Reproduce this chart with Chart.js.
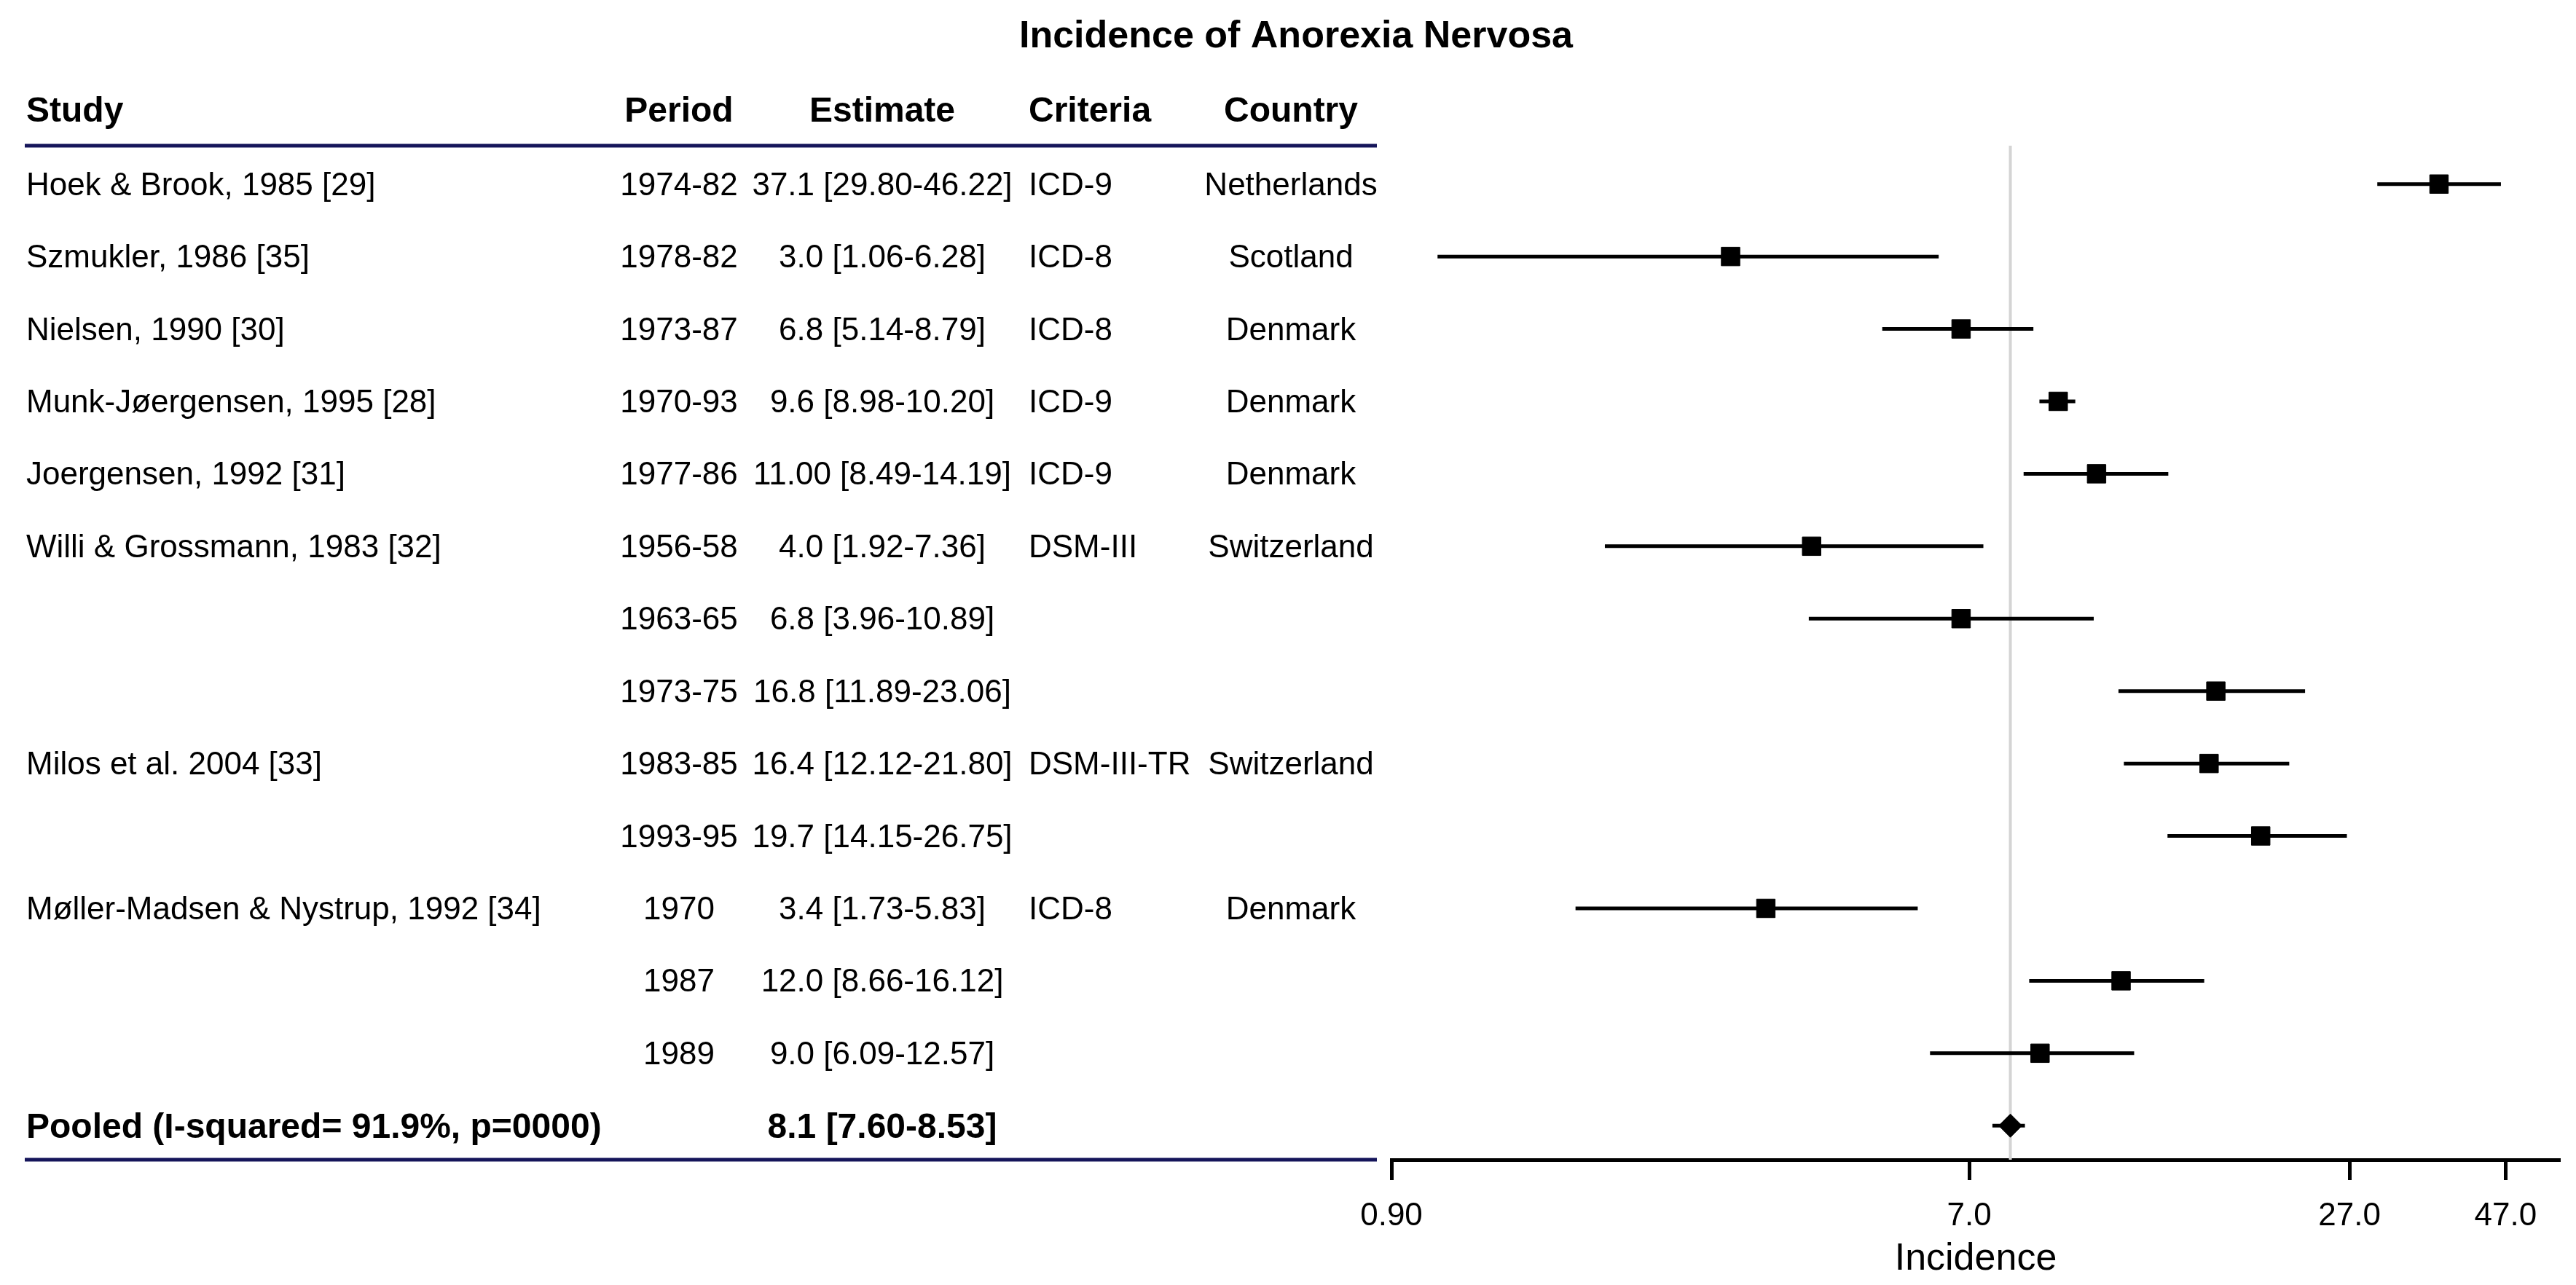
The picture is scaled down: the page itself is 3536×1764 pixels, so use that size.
<!DOCTYPE html>
<html>
<head>
<meta charset="utf-8">
<title>Incidence of Anorexia Nervosa</title>
<script src="https://cdn.jsdelivr.net/npm/chart.js@4.4.1/dist/chart.umd.min.js"></script>
<style>
  html, body { margin: 0; padding: 0; background: #fff; }
  canvas { display: block; }
</style>
</head>
<body>
<canvas id="forest" width="3536" height="1764"></canvas>
<script>
// forest plot data
const chartTitle = 'Incidence of Anorexia Nervosa';
const columnHeaders = ['Study', 'Period', 'Estimate', 'Criteria', 'Country'];

const studies = ['Hoek & Brook, 1985 [29]', 'Szmukler, 1986 [35]', 'Nielsen, 1990 [30]',
  'Munk-Jøergensen, 1995 [28]', 'Joergensen, 1992 [31]', 'Willi & Grossmann, 1983 [32]', '', '',
  'Milos et al. 2004 [33]', '', 'Møller-Madsen & Nystrup, 1992 [34]', '', ''];
const periods = ['1974-82', '1978-82', '1973-87', '1970-93', '1977-86', '1956-58', '1963-65',
  '1973-75', '1983-85', '1993-95', '1970', '1987', '1989'];
const estimates = [37.1, 3.0, 6.8, 9.6, 11.00, 4.0, 6.8, 16.8, 16.4, 19.7, 3.4, 12.0, 9.0];
const lower = [29.80, 1.06, 5.14, 8.98, 8.49, 1.92, 3.96, 11.89, 12.12, 14.15, 1.73, 8.66, 6.09];
const upper = [46.22, 6.28, 8.79, 10.20, 14.19, 7.36, 10.89, 23.06, 21.80, 26.75, 5.83, 16.12, 12.57];
const estimateText = ['37.1 [29.80-46.22]', '3.0 [1.06-6.28]', '6.8 [5.14-8.79]', '9.6 [8.98-10.20]',
  '11.00 [8.49-14.19]', '4.0 [1.92-7.36]', '6.8 [3.96-10.89]', '16.8 [11.89-23.06]',
  '16.4 [12.12-21.80]', '19.7 [14.15-26.75]', '3.4 [1.73-5.83]', '12.0 [8.66-16.12]', '9.0 [6.09-12.57]'];
const criteria = ['ICD-9', 'ICD-8', 'ICD-8', 'ICD-9', 'ICD-9', 'DSM-III', '', '', 'DSM-III-TR', '', 'ICD-8', '', ''];
const countries = ['Netherlands', 'Scotland', 'Denmark', 'Denmark', 'Denmark', 'Switzerland', '', '',
  'Switzerland', '', 'Denmark', '', ''];

const pooledLabel = 'Pooled (I-squared= 91.9%, p=0000)';
const pooledEstimate = 8.1;
const pooledLower = 7.60;
const pooledUpper = 8.53;
const pooledText = '8.1 [7.60-8.53]';

const tickValues = [0.9, 7, 27, 47];
const tickLabels = ['0.90', '7.0', '27.0', '47.0'];

const FONT = '"Liberation Sans", Arial, Helvetica, sans-serif';
Chart.defaults.font.family = FONT;
Chart.defaults.color = '#000';

const nRows = estimates.length;        // pooled row sits at index nRows
const yTop = -0.53;                     // top rule, a little above half a row
const yBottom = nRows + 0.47;           // bottom rule / x axis
const colX = [36, 932, 1211, 1412, 1772];
const colAlign = ['left', 'center', 'center', 'left', 'center'];

// table on the left, title, navy rules
const tablePlugin = {
  id: 'forestTable',
  afterDraw(chart) {
    const ctx = chart.ctx;
    const ys = chart.scales.y;
    const rowY = i => ys.getPixelForValue(i);
    ctx.save();
    ctx.fillStyle = '#000';
    ctx.textBaseline = 'alphabetic';

    ctx.font = 'bold 52px ' + FONT;
    ctx.textAlign = 'center';
    ctx.fillText(chartTitle, 1779, 65);

    ctx.font = 'bold 48px ' + FONT;
    columnHeaders.forEach((h, c) => {
      ctx.textAlign = colAlign[c];
      ctx.fillText(h, colX[c], rowY(-1) + 14);
    });

    ctx.font = '44px ' + FONT;
    for (let i = 0; i < nRows; i++) {
      const cells = [studies[i], periods[i], estimateText[i], criteria[i], countries[i]];
      cells.forEach((t, c) => {
        if (!t) return;
        ctx.textAlign = colAlign[c];
        ctx.fillText(t, colX[c], rowY(i) + 15);
      });
    }

    ctx.font = 'bold 48px ' + FONT;
    ctx.textAlign = 'left';
    ctx.fillText(pooledLabel, colX[0], rowY(nRows) + 17);
    ctx.textAlign = 'center';
    ctx.fillText(pooledText, colX[2], rowY(nRows) + 17);

    ctx.strokeStyle = '#15155a';
    ctx.lineWidth = 5;
    ctx.beginPath();
    ctx.moveTo(34, rowY(yTop)); ctx.lineTo(1890, rowY(yTop));
    ctx.moveTo(34, rowY(yBottom)); ctx.lineTo(1890, rowY(yBottom));
    ctx.stroke();
    ctx.restore();
  }
};

const ciSets = estimates.map((e, i) => ({
  data: [{x: lower[i], y: i}, {x: upper[i], y: i}],
  showLine: true, borderColor: '#000', borderWidth: 5, pointRadius: 0, order: 1
}));
ciSets.push({
  data: [{x: pooledLower, y: nRows}, {x: pooledUpper, y: nRows}],
  showLine: true, borderColor: '#000', borderWidth: 5, pointRadius: 0, order: 1
});

new Chart(document.getElementById('forest'), {
  type: 'scatter',
  data: {
    datasets: [
      {
        data: estimates.map((e, i) => ({x: e, y: i})),
        pointStyle: 'rect', pointRadius: 18, pointBackgroundColor: '#000',
        pointBorderColor: '#000', pointBorderWidth: 1, order: 0
      },
      {
        data: [{x: pooledEstimate, y: nRows}],
        pointStyle: 'rectRot', pointRadius: 16, pointBackgroundColor: '#000',
        pointBorderColor: '#000', pointBorderWidth: 1, order: 0
      },
      ...ciSets,
      {
        data: [{x: pooledEstimate, y: yTop}, {x: pooledEstimate, y: yBottom}],
        showLine: true, borderColor: '#d4d4d4', borderWidth: 4, pointRadius: 0, order: 5
      }
    ]
  },
  options: {
    responsive: false,
    devicePixelRatio: 1,
    animation: false,
    events: [],
    layout: {padding: {left: 1910, right: 22, top: 200, bottom: 0}},
    plugins: {legend: {display: false}, tooltip: {enabled: false}, title: {display: false}},
    scales: {
      x: {
        type: 'logarithmic',
        min: 0.9,
        max: 57,
        bounds: 'data',
        afterBuildTicks: s => { s.ticks = tickValues.map(v => ({value: v})); },
        afterFit: s => { s.height = 172; },
        border: {display: true, color: '#000', width: 5},
        grid: {display: true, drawOnChartArea: false, drawTicks: true, tickLength: 28, tickWidth: 5, tickColor: '#000'},
        ticks: {
          autoSkip: false, maxRotation: 0, padding: 23, color: '#000',
          font: {size: 44, lineHeight: 1.2},
          callback: (v, i) => tickLabels[i]
        },
        title: {display: true, text: 'Incidence', color: '#000', font: {size: 52, lineHeight: 1.2}, padding: {top: 0, bottom: 4}}
      },
      y: {
        type: 'linear',
        min: yTop,
        max: yBottom,
        reverse: true,
        display: false
      }
    }
  },
  plugins: [tablePlugin]
});
</script>
</body>
</html>
